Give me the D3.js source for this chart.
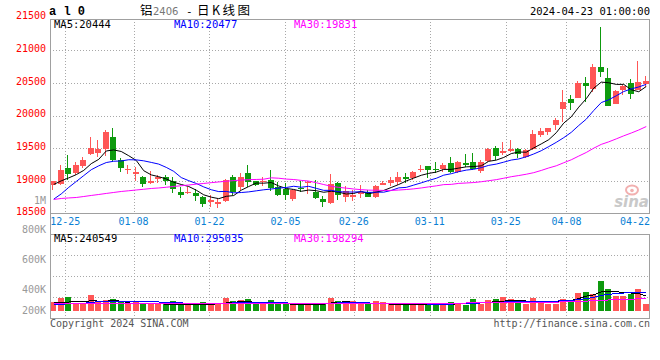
<!DOCTYPE html>
<html><head><meta charset="utf-8">
<script src="https://cdn.jsdelivr.net/npm/d3@7"></script>
<style>
html,body{margin:0;padding:0;background:#fff;}
svg{display:block;}
text{font-family:"DejaVu Sans Mono",monospace;}
</style></head><body>
<svg id="c" width="660" height="360"></svg>
<script>
// ---------------- data ----------------
const dates = ["12-21","12-22","12-25","12-26","12-27","12-28","12-29","01-02","01-03","01-04",
"01-05","01-08","01-09","01-10","01-11","01-12","01-15","01-16","01-17","01-18",
"01-19","01-22","01-23","01-24","01-25","01-26","01-29","01-30","01-31","02-01",
"02-02","02-05","02-06","02-07","02-08","02-19","02-20","02-21","02-22","02-23",
"02-26","02-27","02-28","02-29","03-01","03-04","03-05","03-06","03-07","03-08",
"03-11","03-12","03-13","03-14","03-15","03-18","03-19","03-20","03-21","03-22",
"03-25","03-26","03-27","03-28","03-29","04-01","04-02","04-03","04-08","04-09",
"04-10","04-11","04-12","04-15","04-16","04-17","04-18","04-19","04-22","04-23"];

const opens = [18930,18945,19200,19125,19220,19405,19425,19490,19670,19325,
19160,19110,19065,18970,19025,19065,18990,18825,18820,18810,
18750,18675,18650,18685,19065,18905,19120,18990,18980,19015,
18905,18880,18715,18895,18965,18825,18715,18660,18965,18760,
18760,18800,18835,18750,18940,18965,18980,19065,19040,19170,
19220,19185,19185,19270,19135,19280,19285,19150,19300,19500,
19430,19455,19480,19365,19480,19695,19745,19860,20105,20250,
20275,20500,20400,20745,20580,20180,20385,20490,20385,20480];
const highs = [19005,19235,19390,19285,19365,19670,19620,19785,19815,19355,
19235,19210,19070,19150,19085,19085,19065,18905,18905,18880,
18775,18790,18725,19030,19085,19120,19235,19005,19055,19170,
18980,18965,18870,19005,18990,19015,18775,19100,18980,18915,
18855,18930,18865,18930,19005,19055,19135,19120,19150,19235,
19225,19285,19270,19365,19300,19405,19425,19315,19495,19530,
19595,19620,19510,19490,19775,19815,19810,19960,20385,20310,
20525,20590,20785,21350,20720,20385,20465,20555,20835,20600];
const lows = [18855,18930,19015,19085,19190,19400,19365,19380,19285,19135,
19100,19005,18905,18955,18965,18930,18810,18740,18800,18685,
18595,18605,18585,18675,18790,18855,18905,18915,18920,18840,
18775,18700,18685,18825,18800,18725,18605,18640,18700,18675,
18690,18740,18750,18740,18930,18915,18930,18970,19015,19135,
19050,19120,19135,19120,19120,19210,19160,19125,19285,19315,
19390,19440,19350,19355,19470,19670,19695,19785,19900,20090,
20270,20205,20360,20590,20145,20170,20310,20250,20385,20435];
const closes = [18990,19160,19100,19235,19315,19510,19490,19740,19315,19195,
19180,19135,18955,18990,19055,19005,18880,18785,18835,18775,
18650,18700,18675,19015,18835,19055,18980,18940,19005,18890,
18790,18790,18865,18870,18980,18740,18675,18945,18790,18840,
18790,18825,18760,18915,18970,19015,19055,19030,19135,19185,
19160,19160,19235,19135,19285,19250,19185,19285,19480,19380,
19455,19480,19405,19465,19710,19760,19805,19935,20205,20190,
20500,20450,20745,20665,20145,20370,20450,20335,20515,20525];

const ma5 = [18945,19000,19045,19095,19160,19263,19329,19457,19473,19449,
19384,19312,19155,19091,19063,19029,18978,18944,18913,18857,
18786,18750,18727,18763,18775,18857,18913,18966,18964,18974,
18921,18883,18868,18840,18859,18849,18825,18841,18826,18798,
18808,18839,18802,18827,18853,18898,18944,18998,19042,19085,
19114,19134,19175,19175,19195,19214,19219,19229,19299,19317,
19358,19417,19441,19438,19504,19565,19630,19736,19884,19980,
20128,20257,20419,20511,20501,20476,20476,20394,20364,20444];
const ma10 = [18720,18800,18900,18990,19080,19170,19230,19280,19300,19304,
19323,19321,19306,19282,19256,19206,19145,19050,19002,18960,
18907,18864,18835,18838,18816,18821,18831,18847,18863,18875,
18889,18898,18917,18902,18916,18885,18854,18855,18833,18829,
18829,18832,18822,18827,18826,18853,18892,18900,18935,18969,
19006,19039,19087,19109,19140,19164,19177,19202,19237,19256,
19286,19318,19335,19368,19411,19461,19524,19589,19661,19742,
19847,19944,20077,20198,20241,20302,20367,20407,20437,20477];
const ma30 = [18715,18730,18738,18745,18760,18776,18791,18807,18822,18837,
18848,18860,18871,18883,18891,18902,18914,18925,18936,18949,
18960,18972,18983,18994,19003,19012,19018,19021,19025,19046,
19040,19027,19020,19007,18996,18971,18943,18917,18900,18888,
18875,18865,18858,18856,18853,18853,18859,18867,18877,18891,
18908,18923,18942,18946,18961,18967,18974,18986,19002,19018,
19040,19063,19081,19101,19125,19159,19197,19230,19277,19322,
19379,19434,19500,19558,19597,19642,19689,19732,19778,19831];

// volume (lots)
const volumes = [151000,215000,231000,124000,124000,258000,161000,177000,194000,151000,
113000,151000,124000,124000,113000,113000,161000,113000,113000,113000,
151000,113000,113000,215000,161000,177000,194000,124000,124000,177000,
113000,113000,113000,113000,113000,113000,113000,215000,161000,161000,
161000,113000,113000,161000,140000,113000,113000,113000,113000,113000,
113000,113000,113000,140000,124000,97000,194000,113000,177000,194000,
226000,194000,161000,113000,210000,151000,113000,113000,194000,161000,
290000,306000,270000,489000,360000,242000,242000,270000,355000,113000];
const volMa5 = [140000,140000,145000,150000,150000,165000,160000,160000,165000,160000,
130000,125000,125000,125000,120000,110000,100000,100000,100000,100000,
110000,110000,115000,130000,140000,150000,150000,140000,135000,140000,
120000,115000,110000,110000,110000,110000,110000,130000,140000,150000,
140000,130000,125000,125000,120000,110000,110000,110000,110000,110000,
100000,100000,100000,110000,115000,120000,130000,130000,140000,150000,
160000,170000,175000,160000,160000,150000,140000,140000,160000,170000,
200000,240000,260000,310000,320000,310000,300000,290000,280000,240549];
const volMa10 = [110000,110000,115000,120000,125000,140000,150000,155000,160000,160000,
160000,158000,155000,150000,145000,140000,135000,130000,125000,120000,
120000,120000,120000,125000,130000,135000,140000,140000,140000,140000,
135000,130000,125000,120000,120000,118000,118000,125000,130000,135000,
135000,130000,130000,125000,125000,125000,122000,120000,118000,115000,
112000,110000,110000,112000,115000,120000,125000,130000,135000,140000,
145000,150000,155000,155000,160000,160000,160000,160000,165000,170000,
185000,200000,220000,250000,270000,280000,290000,295000,300000,295035];
const volMa30 = [115000,115000,116000,116000,117000,117000,118000,118000,119000,119000,
120000,120000,120000,121000,121000,121000,122000,122000,122000,122000,
122000,122000,123000,123000,123000,124000,124000,124000,124000,125000,
125000,125000,125000,125000,126000,126000,126000,126000,126000,127000,
127000,127000,127000,127000,127000,128000,128000,128000,128000,128000,
128000,128000,128000,129000,129000,129000,130000,130000,131000,131000,
132000,133000,134000,136000,138000,140000,142000,144000,147000,150000,
155000,160000,166000,172000,178000,183000,188000,192000,195000,198294];

const dateTicks = ["12-25","01-08","01-22","02-05","02-26","03-11","03-25","04-08","04-22"];
const priceTicks = [21500,21000,20500,20000,19500,19000,18500];
const volTickLabels = ["800K","600K","400K","200K"];
const legendMain = [{name:"MA5", value:"20444"},{name:"MA10", value:"20477"},{name:"MA30", value:"19831"}];
const legendVol = [{name:"MA5", value:"240549"},{name:"MA10", value:"295035"},{name:"MA30", value:"198294"}];
const titleParts = ["铝", "2406", "-", "日K线图"];

// ---------------- layout ----------------
const L = 50, R = 650;
const mainTop = 19, mainBot = 213;
const volTop = 234, volBot = 318;
const RED = "#ff5656", GREEN = "#0e9a0e";
const maColors = ["#000000", "#0000ff", "#ff00ff"];
const GRID = "#a8a8a8", FRAME = "#a0a0a0";

const svg = d3.select("#c");
const x = d3.scaleBand().domain(dates).range([L, R]).padding(0);
const xp = d3.scalePoint().domain(dates).range([L, R]);
const y = d3.scaleLinear().domain([18500, 21500]).range([213.5, 17.5]);
const yv = d3.scaleLinear().domain([0, 1000000]).range([311, 249]);
const cx = d => Math.floor(x(d) + x.bandwidth() / 2);

const defs = svg.append("defs");
defs.append("clipPath").attr("id", "clipMain").append("rect")
  .attr("x", L).attr("y", mainTop).attr("width", R - L).attr("height", mainBot - mainTop);
defs.append("clipPath").attr("id", "clipVol").append("rect")
  .attr("x", L).attr("y", volTop).attr("width", R - L).attr("height", volBot - volTop);

// ---------- grid ----------
const grid = svg.append("g").attr("shape-rendering", "crispEdges");
grid.selectAll("line.hm").data(priceTicks.filter(v => v > 18500 && v < 21500)).join("line")
  .attr("x1", L).attr("x2", R)
  .attr("y1", d => Math.round(y(d)) + 0.5).attr("y2", d => Math.round(y(d)) + 0.5)
  .attr("stroke", GRID).attr("stroke-dasharray", "1,2");
const vTicks = dateTicks.filter(d => d !== "04-22");
grid.selectAll("line.vm").data(vTicks).join("line")
  .attr("x1", d => Math.round(xp(d)) + 0.5).attr("x2", d => Math.round(xp(d)) + 0.5)
  .attr("y1", mainTop).attr("y2", mainBot)
  .attr("stroke", GRID).attr("stroke-dasharray", "1,2");
grid.selectAll("line.vv").data(vTicks).join("line")
  .attr("x1", d => Math.round(xp(d)) + 0.5).attr("x2", d => Math.round(xp(d)) + 0.5)
  .attr("y1", volTop).attr("y2", volBot + 2)
  .attr("stroke", GRID).attr("stroke-dasharray", "1,2");
grid.selectAll("line.hv").data([1, 2, 3]).join("line")
  .attr("x1", L).attr("x2", R)
  .attr("y1", d => Math.round(volTop + (volBot - volTop) * d / 4) + 0.5)
  .attr("y2", d => Math.round(volTop + (volBot - volTop) * d / 4) + 0.5)
  .attr("stroke", GRID).attr("stroke-dasharray", "1,2");

// ---------- watermark ----------
const wm = svg.append("g");
wm.append("ellipse").attr("cx", 632).attr("cy", 190).attr("rx", 6).attr("ry", 4.5)
  .attr("fill", "none").attr("stroke", "#f2b0b0").attr("stroke-width", 2);
wm.append("circle").attr("cx", 632).attr("cy", 190.5).attr("r", 1.8).attr("fill", "#f2b0b0");
wm.append("text").attr("x", 649).attr("y", 207).attr("text-anchor", "end")
  .style("font-family", "'DejaVu Sans', sans-serif").style("font-size", "15px")
  .style("font-weight", "bold").style("font-style", "italic")
  .attr("fill", "#c9c9c9").text("sina");

// ---------- candles ----------
const candles = dates.map((d, i) => ({d, o: opens[i], h: highs[i], l: lows[i], c: closes[i], v: volumes[i]}));
const cg = svg.append("g").attr("clip-path", "url(#clipMain)").attr("shape-rendering", "crispEdges");
cg.selectAll("line.wick").data(candles).join("line")
  .attr("x1", d => cx(d.d) - 0.5).attr("x2", d => cx(d.d) - 0.5)
  .attr("y1", d => Math.round(y(d.h))).attr("y2", d => Math.round(y(d.l)))
  .attr("stroke", d => d.c >= d.o ? RED : GREEN);
cg.selectAll("rect.body").data(candles).join("rect")
  .attr("x", d => cx(d.d) - 3).attr("width", 6)
  .attr("y", d => Math.round(y(Math.max(d.o, d.c))))
  .attr("height", d => Math.max(1, Math.round(y(Math.min(d.o, d.c))) - Math.round(y(Math.max(d.o, d.c)))))
  .attr("fill", d => d.c >= d.o ? RED : GREEN);

// ---------- MA lines (main) ----------
const mg = svg.append("g").attr("clip-path", "url(#clipMain)");
[ma5, ma10, ma30].forEach((arr, k) => {
  const line = d3.line().x((v, i) => x(dates[i]) + x.bandwidth() / 2).y(v => y(v));
  mg.append("path").attr("d", line(arr)).attr("fill", "none")
    .attr("stroke", maColors[k]).attr("stroke-width", 1);
});

// ---------- volume bars ----------
const vg = svg.append("g").attr("clip-path", "url(#clipVol)").attr("shape-rendering", "crispEdges");
vg.selectAll("rect").data(candles).join("rect")
  .attr("x", d => cx(d.d) - 3).attr("width", 6)
  .attr("y", d => Math.round(yv(d.v))).attr("height", d => 311 - Math.round(yv(d.v)))
  .attr("fill", d => d.c >= d.o ? RED : GREEN);
[volMa5, volMa10, volMa30].forEach((arr, k) => {
  const line = d3.line().x((v, i) => x(dates[i]) + x.bandwidth() / 2).y(v => yv(v));
  vg.append("path").attr("d", line(arr)).attr("fill", "none")
    .attr("stroke", maColors[k]).attr("stroke-width", 1);
});

// ---------- frames ----------
const fr = svg.append("g").attr("shape-rendering", "crispEdges").attr("stroke", FRAME).attr("fill", "none");
fr.append("line").attr("x1", L + 0.5).attr("x2", L + 0.5).attr("y1", mainTop).attr("y2", volBot + 1);
fr.append("line").attr("x1", R - 0.5).attr("x2", R - 0.5).attr("y1", mainTop).attr("y2", mainBot);
fr.append("line").attr("x1", R - 0.5).attr("x2", R - 0.5).attr("y1", volTop).attr("y2", volBot + 1);
fr.append("line").attr("x1", L).attr("x2", R).attr("y1", mainTop + 0.5).attr("y2", mainTop + 0.5);
fr.append("line").attr("x1", L).attr("x2", R).attr("y1", mainBot + 0.5).attr("y2", mainBot + 0.5);
fr.append("line").attr("x1", L).attr("x2", R).attr("y1", volTop + 0.5).attr("y2", volTop + 0.5);
fr.append("line").attr("x1", L).attr("x2", R).attr("y1", volBot + 0.5).attr("y2", volBot + 0.5);

// ---------- axis labels ----------
const fs = "10px";
svg.append("g").selectAll("text").data(priceTicks).join("text")
  .attr("x", 46).attr("y", d => y(d) + 1.8).attr("text-anchor", "end")
  .style("font-size", fs).attr("fill", "#ff0000").text(d => d);
svg.append("text").attr("x", 46).attr("y", 204).attr("text-anchor", "end")
  .style("font-size", fs).attr("fill", "#999").text("1M");
const volLabelBase = [233.3, 263.3, 293.3, 314.3];
svg.append("g").selectAll("text").data(volTickLabels).join("text")
  .attr("x", 46).attr("y", (d, i) => volLabelBase[i]).attr("text-anchor", "end")
  .style("font-size", fs).attr("fill", "#999").text(d => d);
svg.append("g").selectAll("text").data(dateTicks).join("text")
  .attr("x", d => xp(d) + 15 > R ? R : xp(d))
  .attr("text-anchor", d => xp(d) + 15 > R ? "end" : "middle")
  .attr("y", 224.5).style("font-size", fs).attr("fill", "#0a7fd4").text(d => d);

// ---------- legends ----------
const legX = [54, 174, 294];
svg.append("g").selectAll("text").data(legendMain).join("text")
  .attr("x", (d, i) => legX[i]).attr("y", 28).style("font-size", "10.5px")
  .attr("fill", (d, i) => maColors[i]).text(d => d.name + ":" + d.value);
svg.append("g").selectAll("text").data(legendVol).join("text")
  .attr("x", (d, i) => legX[i]).attr("y", 242).style("font-size", "10.5px")
  .attr("fill", (d, i) => maColors[i]).text(d => d.name + ":" + d.value);

// ---------- header ----------
svg.append("text").attr("x", 49).attr("y", 15)
  .style("font-family", "'Liberation Mono', monospace").style("font-size", "12px")
  .style("font-weight", "bold").attr("fill", "#000").text("a l 0");
const titleX = [140, 153, 186, 197];
const titleStyle = [
  {ff: "'Noto Sans CJK SC', sans-serif", fs: "12.5px", fill: "#000"},
  {ff: "'DejaVu Sans', sans-serif", fs: "10px", fill: "#777"},
  {ff: "'DejaVu Sans Mono', monospace", fs: "11px", fill: "#000"},
  {ff: "'Noto Sans CJK SC', sans-serif", fs: "12.5px", fill: "#000"}];
svg.append("g").selectAll("text").data(titleParts).join("text")
  .attr("x", (d, i) => titleX[i]).attr("y", 15)
  .style("font-family", (d, i) => titleStyle[i].ff).style("font-size", (d, i) => titleStyle[i].fs)
  .attr("fill", (d, i) => titleStyle[i].fill)
  .attr("textLength", (d, i) => i === 3 ? 53 : null)
  .text(d => d);
svg.append("text").attr("x", 650).attr("y", 15).attr("text-anchor", "end")
  .style("font-size", "10.5px").attr("fill", "#000").text("2024-04-23 01:00:00");

// ---------- footer ----------
svg.append("text").attr("x", 50).attr("y", 327).style("font-size", fs)
  .attr("fill", "#555").text("Copyright 2024 SINA.COM");
svg.append("text").attr("x", 650).attr("y", 327).attr("text-anchor", "end").style("font-size", fs)
  .attr("fill", "#555").text("http://finance.sina.com.cn");
</script>
</body></html>
